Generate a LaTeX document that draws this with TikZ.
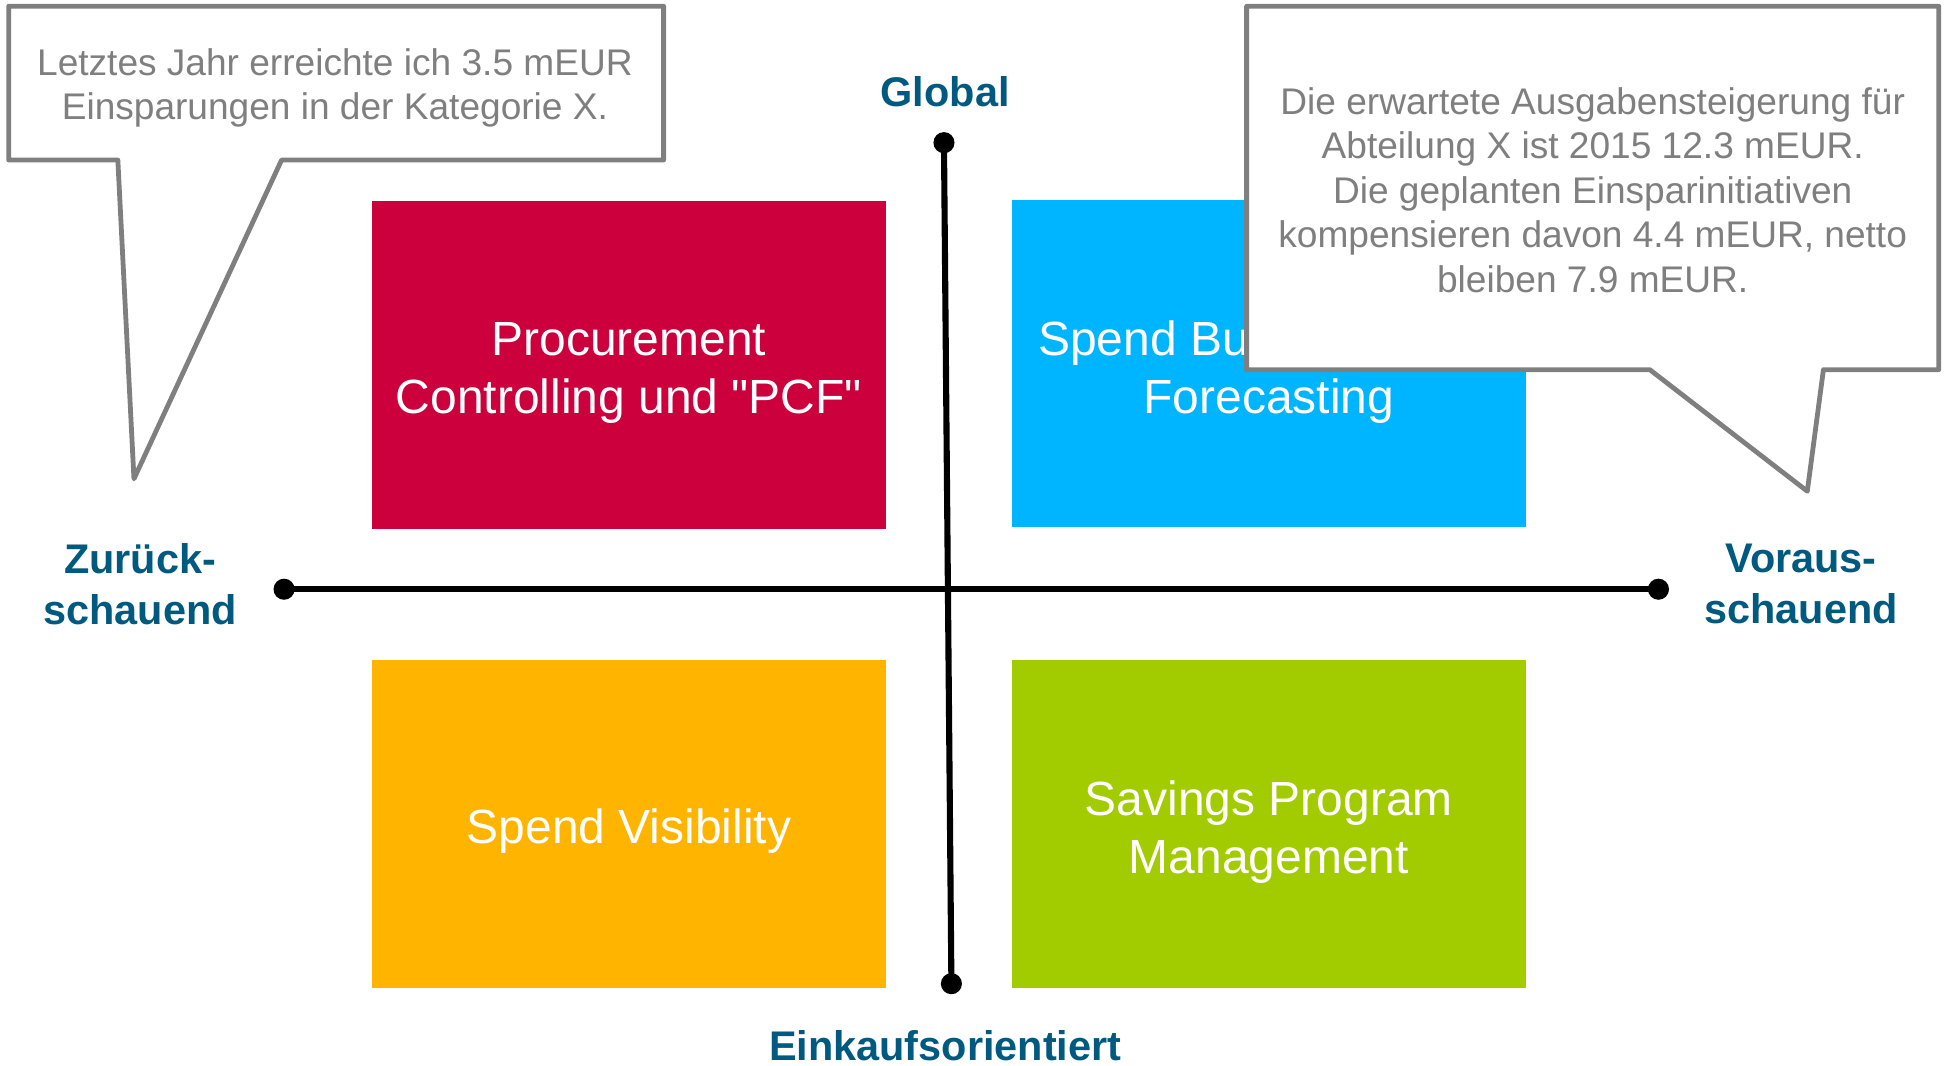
\documentclass[tikz,border=0pt]{standalone}
\usepackage{fontspec}
\setmainfont{Liberation Sans}[Ligatures=TeXOff]
\definecolor{redq}{HTML}{CC003C}
\definecolor{blueq}{HTML}{00B5FF}
\definecolor{orangeq}{HTML}{FFB400}
\definecolor{greenq}{HTML}{A2CB00}
\definecolor{axcol}{HTML}{005A80}
\definecolor{bubgray}{HTML}{7F7F7F}
\begin{document}
\begin{tikzpicture}[x=0.01cm,y=-0.01cm,
  quad/.style={rectangle, inner sep=0pt, outer sep=0pt,
    minimum width=4.14cm, minimum height=2.64cm},
  quadtext/.style={text=white, align=center, inner sep=0pt, font=\fontsize{11}{13.3}\selectfont},
  axlabel/.style={text=axcol, align=center, inner sep=0pt, font=\fontsize{9.5}{11.7}\selectfont\bfseries},
  bubble/.style={draw=bubgray, line width=1.1pt, fill=white, line join=round},
  bubtext/.style={text=bubgray, align=center, inner sep=0pt, font=\fontsize{8.5}{10.2}\selectfont},
  axisline/.style={line width=1.4pt, black},
  axdot/.style={circle, fill=black, inner sep=0pt, minimum size=0.17cm}
]
\useasboundingbox (0,0) rectangle (1568,859);

% quadrants
\node[quad, fill=redq] (pcf) at (507,294) {};
\node[quad, fill=blueq] (sbf) at (1023,293) {};
\node[quad, fill=orangeq] (sv) at (507,664) {};
\node[quad, fill=greenq] (spm) at (1023,664) {};
\node[quadtext] (pcft) at (507,301) {Procurement\\Controlling und "PCF"};
\node[quadtext] (sbft) at (1023,300) {Spend Budgeting und\\Forecasting};
\node[quadtext] (svt) at (507,670) {Spend Visibility};
\node[quadtext] (spmt) at (1023,671) {Savings Program\\Management};

% axes
\node[axdot] (hl) at (229,475) {};
\node[axdot] (hr) at (1337,475) {};
\node[axdot] (vt) at (761,115) {};
\node[axdot] (vb) at (767,793) {};
\draw[axisline] (hl.center) -- (hr.center);
\draw[axisline] (vt.center) -- (vb.center);

% axis labels
\node[axlabel] (glob) at (762,74) {Global};
\node[axlabel] (eink) at (762,843) {Einkaufsorientiert};
\node[axlabel] (zur) at (113,471) {Zurück-\\schauend};
\node[axlabel] (vor) at (1452,471) {Voraus-\\schauend};

% left callout
\draw[bubble] (7,5) -- (535,5) -- (535,129) -- (227,129) -- (108,386) -- (95,129) -- (7,129) -- cycle;
\node[bubtext] (lc) at (270,71) {Letztes Jahr erreichte ich 3.5 mEUR\\Einsparungen in der Kategorie X.};

% right callout
\draw[bubble] (1005,5) -- (1563,5) -- (1563,298) -- (1470,298) -- (1457,396) -- (1330,298) -- (1005,298) -- cycle;
\node[bubtext] (rc) at (1284,153) {Die erwartete Ausgabensteigerung für\\Abteilung X ist 2015 12.3 mEUR.\\Die geplanten Einsparinitiativen\\kompensieren davon 4.4 mEUR, netto\\bleiben 7.9 mEUR.};
\end{tikzpicture}
\end{document}
